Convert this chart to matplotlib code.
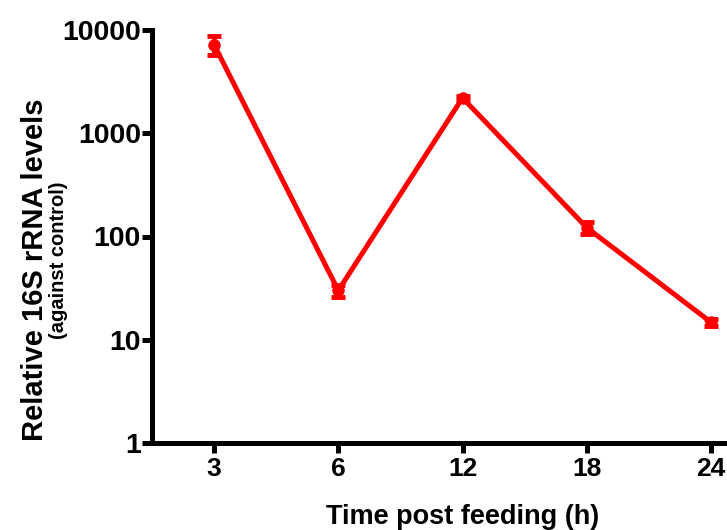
import matplotlib
matplotlib.use("Agg")
import matplotlib.pyplot as plt
import numpy as np

plt.rcParams['font.family'] = ['Liberation Sans', 'DejaVu Sans']
plt.rcParams['font.weight'] = 'bold'

categories = ["3", "6", "12", "18", "24"]
values = [7200, 30, 2200, 122, 14.8]
errors = [1500, 4, 100, 17, 1.2]
yticks = [1, 10, 100, 1000, 10000]
ytick_labels = ["1", "10", "100", "1000", "10000"]

fig = plt.figure(figsize=(7.27, 5.30), dpi=100)
ax = fig.add_axes([152/727, 87/530, 621/727, 413/530])

x = np.arange(len(categories))
ax.errorbar(x, values, yerr=errors, color="#ff0000", lw=3.6, marker="o",
            ms=8, capsize=5, capthick=3.5, elinewidth=3.5, clip_on=False, zorder=3)

ax.set_yscale("log")
ax.set_ylim(1, 10000)
ax.set_xlim(-0.5, 4.5)
ax.set_yticks(yticks)
ax.set_yticklabels(ytick_labels)
ax.yaxis.set_minor_locator(matplotlib.ticker.NullLocator())
ax.set_xticks(x)
ax.set_xticklabels(categories)

for s in ["top", "right"]:
    ax.spines[s].set_visible(False)
for s in ["left", "bottom"]:
    ax.spines[s].set_linewidth(3.6)
ax.tick_params(axis="both", width=3.6, length=7, pad=2)
ax.tick_params(axis="y", labelsize=20.5, pad=1)
ax.tick_params(axis="x", labelsize=19, pad=3)
for lab in ax.get_xticklabels() + ax.get_yticklabels():
    lab.set_fontweight("bold")

ax.set_xlabel("Time post feeding (h)", fontsize=19.5, fontweight="bold", labelpad=17)

fig.text(35/727, 1 - 270/530, "Relative 16S rRNA levels", rotation=90,
         ha="center", va="center", fontsize=21, fontweight="bold")
fig.text(59/727, 1 - 260/530, "(against control)", rotation=90,
         ha="center", va="center", fontsize=14.5, fontweight="bold")

fig.savefig("out.png", dpi=100)
